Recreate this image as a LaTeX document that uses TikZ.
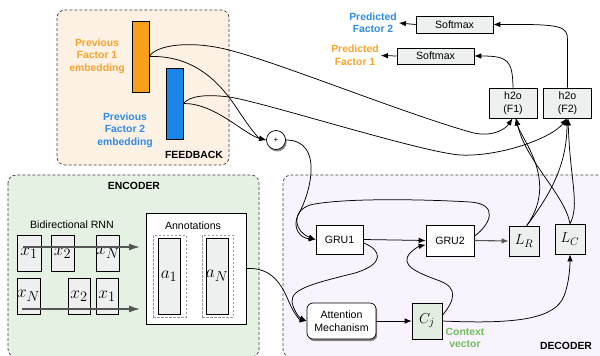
\documentclass[tikz,border=0pt]{standalone}
\usepackage{fontspec}
\setmainfont{Liberation Sans}
\usetikzlibrary{arrows.meta,shadows}
\definecolor{fbfill}{RGB}{253,241,227}
\definecolor{encfill}{RGB}{229,241,227}
\definecolor{decfill}{RGB}{248,243,253}
\definecolor{orangebar}{RGB}{248,160,28}
\definecolor{bluebar}{RGB}{28,134,232}
\definecolor{orangetxt}{RGB}{247,163,45}
\definecolor{bluetxt}{RGB}{45,140,232}
\definecolor{boxgray}{RGB}{238,240,240}
\definecolor{cjfill}{RGB}{226,238,223}
\definecolor{ctxgreen}{RGB}{112,190,92}
\definecolor{arrgray}{RGB}{85,85,85}
\newcommand{\dn}[1]{\raisebox{-3pt}{#1}}
\begin{document}
\begin{tikzpicture}[x=1pt,y=-1pt,
  every node/.style={font=\fontsize{10.6}{12.6}\selectfont, inner sep=0pt},
  region/.style={draw=black!75, dash pattern=on 3pt off 2pt, rounded corners=8pt, line width=0.7pt},
  plainbox/.style={draw, line width=0.7pt, fill=white},
  graybox/.style={draw, line width=0.7pt, fill=boxgray},
  bigmath/.style={font=\fontsize{19}{19}\selectfont},
  midmath/.style={font=\fontsize{15.5}{15.5}\selectfont},
  bar/.style={draw, line width=0.7pt, minimum width=17, minimum height=71},
  lbl/.style={font=\fontsize{10.4}{12.5}\selectfont\bfseries, align=center},
  conn/.style={line width=0.75pt, -{Latex[length=7pt,width=5.5pt]}},
  garrow/.style={draw=arrgray, line width=1.4pt, -{Latex[length=11pt,width=7pt]}},
  innerdash/.style={draw=black!40, dash pattern=on 2.5pt off 1.5pt, line width=0.6pt},
  shad/.style={drop shadow={shadow xshift=1.2pt, shadow yshift=-2pt, fill=black, opacity=0.45}},
]
\useasboundingbox (0,0) rectangle (600,356);

% regions
\path[region, fill=fbfill] (57,10) rectangle (229,165);
\path[region, fill=encfill] (8,175) rectangle (259,357);
\path[region, fill=decfill] (283,175) rectangle (608,357);

% feedback
\node[bar, fill=orangebar] (f1) at (140.5,56.5) {};
\node[bar, fill=bluebar] (f2) at (174.5,103.5) {};
\node[lbl, text=orangetxt] (pf1emb) at (97,56) {Previous\\Factor 1\\embedding};
\node[lbl, text=bluetxt] (pf2emb) at (125,130) {Previous\\Factor 2\\embedding};
\node[lbl] (fbtitle) at (194,155) {FEEDBACK};
\node[circle, draw, fill=white, line width=0.7pt, minimum size=19, shad] (plus) at (276,140) {\fontsize{8}{8}\selectfont +};

% encoder
\node[lbl] (enctitle) at (134,186) {ENCODER};
\node (birnn) at (72,225) {Bidirectional RNN};
\node[graybox, minimum width=24, minimum height=36, bigmath] (xa1) at (29,253) {\dn{$x_1$}};
\node[graybox, minimum width=23, minimum height=36, bigmath] (xa2) at (62.5,253) {\dn{$x_2$}};
\node[graybox, minimum width=22, minimum height=36, bigmath] (xaN) at (108,253) {\dn{$x_N$}};
\node[graybox, minimum width=23, minimum height=36, bigmath] (xbN) at (28.5,296) {\dn{$x_N$}};
\node[graybox, minimum width=22, minimum height=36, bigmath] (xb2) at (79,296) {\dn{$x_2$}};
\node[graybox, minimum width=22, minimum height=36, bigmath] (xb1) at (107,296) {\dn{$x_1$}};
\coordinate (e1s) at (23,247);
\coordinate (e1e) at (140,247);
\coordinate (e2s) at (22,309);
\coordinate (e2e) at (140,309);
\draw[garrow] (e1s) -- (e1e);
\draw[garrow] (e2s) -- (e2e);

\node[plainbox, minimum width=100, minimum height=111] (annot) at (196,268.5) {};
\node (annotlbl) at (193,226) {Annotations};
\node[innerdash, minimum width=33, minimum height=82] (a1d) at (169.5,276) {};
\node[innerdash, minimum width=31, minimum height=82] (aNd) at (217.5,276) {};
\node[graybox, minimum width=22, minimum height=76, bigmath] (a1) at (169,276) {$a_1$};
\node[graybox, minimum width=22, minimum height=76, bigmath] (aN) at (217,276) {$a_N$};

% decoder
\node[lbl] (dectitle) at (566,346) {DECODER};
\node[plainbox, minimum width=47, minimum height=29] (gru1) at (339.5,239.5) {GRU1};
\node[plainbox, minimum width=48, minimum height=31] (gru2) at (450,240.5) {GRU2};
\node[graybox, minimum width=30, minimum height=30, midmath] (lr) at (524,241) {$L_R$};
\node[graybox, minimum width=30, minimum height=30, midmath] (lc) at (570,239) {$L_C$};
\node[plainbox, rounded corners=6pt, minimum width=69, minimum height=36, align=center, shad] (attn) at (341.5,321) {Attention\\Mechanism};
\node[draw, line width=0.7pt, fill=cjfill, minimum width=30, minimum height=36, midmath] (cj) at (427,321) {$C_j$};
\node[lbl, text=ctxgreen] (ctx) at (465,338) {Context\\vector};

% outputs
\node[graybox, minimum width=48, minimum height=30, align=center] (h1) at (513,103) {h2o\\(F1)};
\node[graybox, minimum width=48, minimum height=30, align=center] (h2) at (567.5,103) {h2o\\(F2)};
\node[graybox, minimum width=77, minimum height=17] (sm2) at (454.5,24.5) {Softmax};
\node[graybox, minimum width=77, minimum height=16] (sm1) at (435.5,56) {Softmax};
\node[lbl, text=bluetxt, inner xsep=2pt] (pf2) at (373,23) {Predicted\\Factor 2};
\node[lbl, text=orangetxt, inner xsep=2pt] (pf1) at (355,55.5) {Predicted\\Factor 1};

% connectors: feedback
\draw[conn] (f1.east) .. controls (156,45) and (190,40) .. (229,50)
   .. controls (280,63) and (400,112) .. (470,132)
   .. controls (490,138) and (505,130) .. (h1.-92);
\draw[conn] (f2.east) .. controls (190,96) and (205,94) .. (229,97)
   .. controls (260,101) and (420,152) .. (460,155)
   .. controls (500,157) and (552,138) .. (h2.-92);
\draw[conn] (f1.east) .. controls (200,55) and (225,90) .. (240,113)
   .. controls (250,128) and (258,138) .. (plus.west);
\draw[conn] (f2.east) .. controls (215,103) and (245,135) .. (plus.west);

% plus -> GRU1
\draw[conn] (plus.east) .. controls (325,140) and (310,195) .. (298,215)
   .. controls (292,228) and (300,238) .. (gru1.west);
% GRU2 loop -> GRU1
\draw[conn] (gru2.10) .. controls (490,225) and (500,204) .. (470,202)
   .. controls (420,199) and (340,198) .. (310,205)
   .. controls (290,212) and (295,232) .. (gru1.west);
\draw[conn] (gru1.east) -- (gru2.west);
\draw[draw=arrgray, line width=1.1pt, -{Latex[length=7pt,width=5.5pt]}] (gru2.east) -- (lr.west);

% to attention
\draw[conn] (gru1.-8) .. controls (382,250) and (385,264) .. (355,273)
   .. controls (320,282) and (290,288) .. (292,302)
   .. controls (294,312) and (300,318) .. (attn.west);
\draw[conn] (annot.east) .. controls (272,267) and (282,285) .. (289,302)
   .. controls (294,314) and (300,320) .. (attn.west);
\draw[conn] (attn.east) -- (cj.west);

% context vector
\draw[conn] (cj.20) .. controls (455,300) and (458,288) .. (440,281)
   .. controls (415,272) and (400,265) .. (410,253)
   .. controls (415,248) and (420,246) .. (gru2.190);
\draw[conn] (cj.east) .. controls (510,324) and (550,320) .. (562,300)
   .. controls (568,290) and (570,270) .. (lc.south);

% L -> h2o
\draw[conn] (lr.80) .. controls (545,200) and (542,175) .. (530,150)
   .. controls (524,138) and (518,128) .. (h1.-80);
\draw[conn] (lr.80) .. controls (550,195) and (567,165) .. (h2.-92);
\draw[conn] (lc.north) .. controls (580,205) and (570,180) .. (h2.-88);
\draw[conn] (lc.north) .. controls (565,195) and (525,160) .. (h1.-78);

% h2o -> softmax -> predictions
\draw[conn] (h1.north) .. controls (512.5,60) and (508,56) .. (sm1.east);
\draw[conn] (h2.north) -- (567.5,40) .. controls (567.5,26) and (562,24) .. (sm2.east);
\draw[conn] (sm1.west) -- (pf1.east);
\draw[conn] (sm2.west) -- (pf2.east);
\end{tikzpicture}
\end{document}
